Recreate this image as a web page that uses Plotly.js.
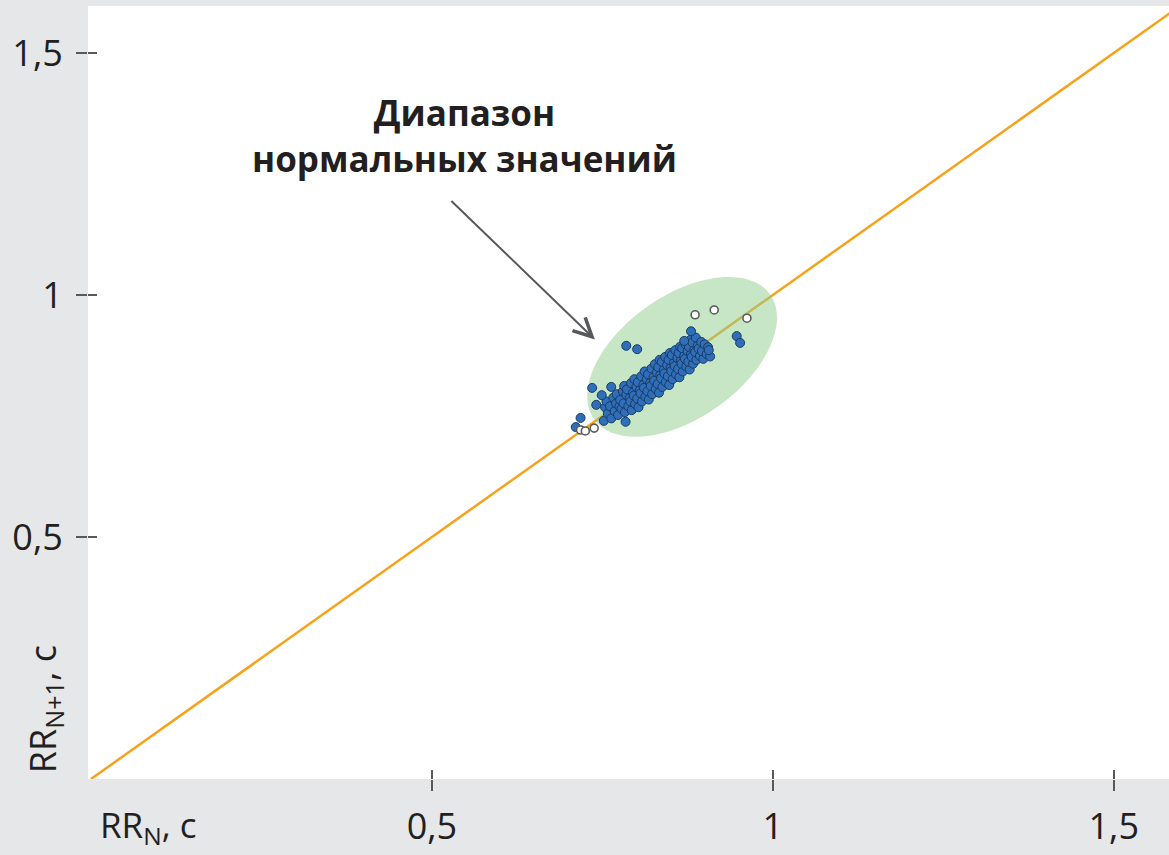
<!DOCTYPE html>
<html><head><meta charset="utf-8">
<script src="https://cdn.plot.ly/plotly-3.0.1.min.js"></script>
<style>html,body{margin:0;padding:0;background:#e6e7e8;}#chart{width:1169px;height:855px;}</style>
</head><body><div id="chart"></div>
<script>
// ---- data ----
const tickVals = [0.5, 1, 1.5];
const tickText = ['0,5', '1', '1,5'];

// normal RR intervals (blue)
const normalX = [
 0.752,0.754, 0.758,0.756, 0.763,0.761, 0.768,0.766,0.770, 0.773,0.775,0.771,
 0.778,0.776,0.780, 0.783,0.781,0.785,0.782, 0.788,0.790,0.786, 0.793,0.791,0.795,0.792,
 0.798,0.796,0.800,0.797, 0.803,0.801,0.805,0.802, 0.808,0.806,0.810,0.807,
 0.813,0.811,0.815,0.812, 0.818,0.816,0.820,0.817, 0.823,0.821,0.825,0.822,
 0.828,0.826,0.830,0.827, 0.833,0.831,0.835,0.832,0.834, 0.838,0.836,0.840,0.837,
 0.843,0.841,0.845,0.842, 0.848,0.846,0.850,0.847,0.849, 0.853,0.851,0.855,0.852,
 0.858,0.856,0.860,0.857, 0.863,0.861,0.865,0.862,0.864, 0.868,0.866,0.870,0.867,
 0.873,0.871,0.875,0.872, 0.878,0.876,0.880,0.877,0.879, 0.883,0.881,0.885,0.882,
 0.888,0.886,0.890,0.887, 0.893,0.891,0.895, 0.898,0.896,0.900, 0.903,0.905, 0.908,0.906,
 0.880,0.870,
 0.711,0.718,0.947,0.952,0.785,0.801,0.735,0.749,0.763,0.741,0.784];
const normalY = [
 0.740,0.768, 0.755,0.780, 0.745,0.770, 0.760,0.788,0.776, 0.752,0.770,0.795,
 0.765,0.783,0.801, 0.758,0.776,0.794,0.812, 0.770,0.787,0.805, 0.762,0.780,0.798,0.818,
 0.775,0.792,0.810,0.826, 0.768,0.786,0.803,0.820, 0.780,0.797,0.814,0.832,
 0.790,0.808,0.826,0.842, 0.784,0.801,0.818,0.836, 0.795,0.812,0.830,0.848,
 0.806,0.823,0.840,0.857, 0.798,0.816,0.834,0.851,0.866, 0.810,0.828,0.845,0.862,
 0.820,0.838,0.855,0.872, 0.814,0.832,0.849,0.866,0.880, 0.826,0.843,0.860,0.876,
 0.836,0.853,0.870,0.886, 0.830,0.847,0.864,0.880,0.893, 0.842,0.858,0.874,0.890,
 0.852,0.868,0.884,0.898, 0.846,0.862,0.878,0.893,0.907, 0.858,0.872,0.888,0.902,
 0.866,0.882,0.896,0.912, 0.874,0.889,0.903, 0.868,0.884,0.898, 0.878,0.892, 0.873,0.886,
 0.925,0.905,
 0.727,0.746,0.915,0.901,0.895,0.888,0.808,0.793,0.810,0.773,0.738];

// excluded intervals (white)
const outlierX = [0.886, 0.914, 0.962, 0.718, 0.725, 0.738];
const outlierY = [0.959, 0.969, 0.952, 0.721, 0.719, 0.725];

// identity line RR(N+1) = RR(N)
const identityX = [0, 1.7];
const identityY = [0, 1.7];

// normal range ellipse: centre and two conjugate semi-diameters (data units)
const ellipseCenter = [0.867, 0.872];
const ellipseAxisA = [0.129, 0.129];
const ellipseAxisB = [-0.052, 0.103];

// ---- build ellipse path ----
function ellipsePath(c, a, b) {
  const k = 0.5523;
  const P = (u, v) => [c[0] + u * a[0] + v * b[0], c[1] + u * a[1] + v * b[1]];
  const f = p => p[0].toFixed(5) + ',' + p[1].toFixed(5);
  let s = 'M' + f(P(1, 0));
  s += ' C' + f(P(1, k)) + ' ' + f(P(k, 1)) + ' ' + f(P(0, 1));
  s += ' C' + f(P(-k, 1)) + ' ' + f(P(-1, k)) + ' ' + f(P(-1, 0));
  s += ' C' + f(P(-1, -k)) + ' ' + f(P(-k, -1)) + ' ' + f(P(0, -1));
  s += ' C' + f(P(k, -1)) + ' ' + f(P(1, -k)) + ' ' + f(P(1, 0)) + ' Z';
  return s;
}

const xr = [-0.0044, 1.581];
const yr = [0, 1.597];
const fontFam = '"Open Sans", "Noto Sans", sans-serif';
const txtCol = '#231f20';
const tickCol = '#58595b';

const traces = [
  {x: normalX, y: normalY, type: 'scatter', mode: 'markers', showlegend: false, hoverinfo: 'x+y',
   marker: {size: 9, color: '#2f6fba', line: {color: '#1b3a63', width: 1}}},
  {x: outlierX, y: outlierY, type: 'scatter', mode: 'markers', showlegend: false, hoverinfo: 'x+y',
   marker: {size: 8, color: '#ffffff', line: {color: '#5a5a5a', width: 1.6}}},
  {x: [null], y: [null], xaxis: 'x2', yaxis: 'y2', type: 'scatter', mode: 'markers', showlegend: false, hoverinfo: 'skip'}
];

const axBase = {showgrid: false, zeroline: false, showline: false, tickmode: 'array',
  tickvals: tickVals, ticktext: tickText, tickwidth: 2, tickcolor: tickCol, fixedrange: true};

const layout = {
  width: 1169, height: 855,
  margin: {l: 88, r: 0, t: 6, b: 76, pad: 0},
  paper_bgcolor: '#e6e7e8', plot_bgcolor: '#ffffff',
  separators: ', ',
  showlegend: false,
  font: {family: fontFam, color: txtCol},
  xaxis: Object.assign({}, axBase, {range: xr, ticks: 'outside', ticklen: 11, ticklabelstandoff: 5,
    tickfont: {size: 36, family: fontFam, color: txtCol}}),
  yaxis: Object.assign({}, axBase, {range: yr, ticks: 'outside', ticklen: 11, ticklabelstandoff: 6,
    tickfont: {size: 36, family: fontFam, color: txtCol}}),
  xaxis2: Object.assign({}, axBase, {range: xr, overlaying: 'x', anchor: 'y2', ticks: 'inside', ticklen: 9, showticklabels: false}),
  yaxis2: Object.assign({}, axBase, {range: yr, overlaying: 'y', anchor: 'x2', ticks: 'inside', ticklen: 9, showticklabels: false}),
  shapes: [
    {type: 'line', xref: 'x', yref: 'y', x0: identityX[0], y0: identityY[0], x1: identityX[1], y1: identityY[1],
     line: {color: '#f7a21b', width: 2.5}, layer: 'below'},
    {type: 'path', xref: 'x', yref: 'y', path: ellipsePath(ellipseCenter, ellipseAxisA, ellipseAxisB),
     fillcolor: 'rgba(141,206,139,0.5)', line: {width: 0}, layer: 'below'}
  ],
  annotations: [
    {text: '<b>Диапазон<br>нормальных значений</b>', xref: 'x', yref: 'y', x: 0.548, y: 1.33,
     showarrow: false, align: 'center', font: {size: 35, family: fontFam, color: txtCol}},
    {text: '', xref: 'x', yref: 'y', x: 0.739, y: 0.908, showarrow: true, ax: -145, ay: -140,
     arrowhead: 5, arrowsize: 1.8, arrowwidth: 2, arrowcolor: tickCol},
    {text: 'RR<sub>N</sub>, c', xref: 'paper', yref: 'paper', x: 0.009, y: -0.061, xanchor: 'left', yanchor: 'middle',
     showarrow: false, font: {size: 35, family: fontFam, color: txtCol}},
    {text: 'RR<sub>N+1</sub>, c', xref: 'paper', yref: 'paper', x: -0.040, y: 0.090, xanchor: 'center', yanchor: 'middle',
     textangle: -90, showarrow: false, font: {size: 36, family: fontFam, color: txtCol}}
  ]
};

Plotly.newPlot('chart', traces, layout, {displayModeBar: false, staticPlot: true});
</script></body></html>
